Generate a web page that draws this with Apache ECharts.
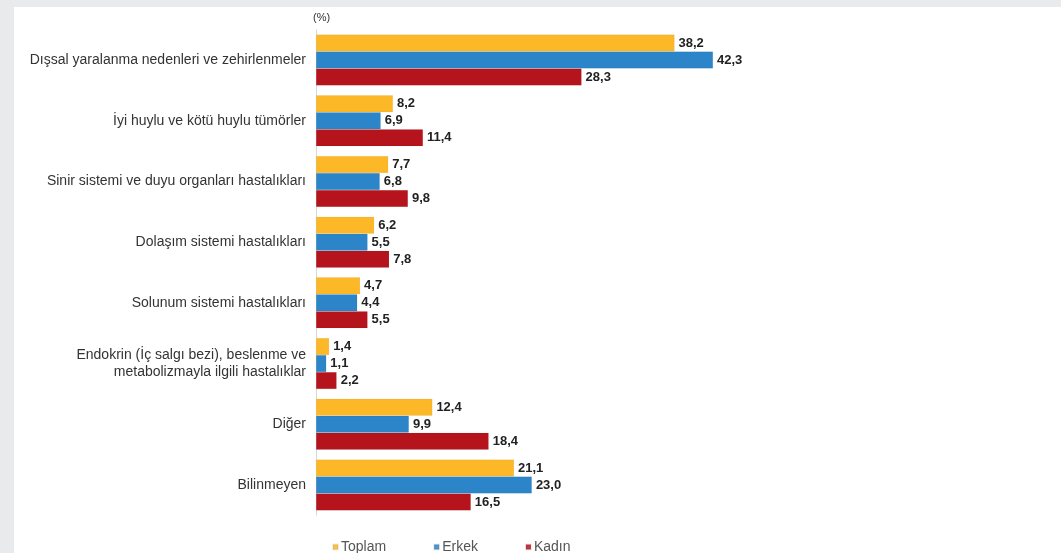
<!DOCTYPE html>
<html>
<head>
<meta charset="utf-8">
<script src="https://cdn.jsdelivr.net/npm/echarts@6/dist/echarts.min.js"></script>
<style>
  html, body { margin: 0; padding: 0; background: #e9eaec; }
  #chart { width: 1061px; height: 553px; }
</style>
</head>
<body>
<div id="chart"></div>
<script>
// Causes of death categories (top to bottom)
const categories = [
  'Dışsal yaralanma nedenleri ve zehirlenmeler',
  'İyi huylu ve kötü huylu tümörler',
  'Sinir sistemi ve duyu organları hastalıkları',
  'Dolaşım sistemi hastalıkları',
  'Solunum sistemi hastalıkları',
  'Endokrin (İç salgı bezi), beslenme ve\nmetabolizmayla ilgili hastalıklar',
  'Diğer',
  'Bilinmeyen'
];
const seriesNames = ['Toplam', 'Erkek', 'Kadın'];
const toplam = [38.2, 8.2, 7.7, 6.2, 4.7, 1.4, 12.4, 21.1];
const erkek  = [42.3, 6.9, 6.8, 5.5, 4.4, 1.1, 9.9, 23.0];
const kadin  = [28.3, 11.4, 9.8, 7.8, 5.5, 2.2, 18.4, 16.5];

const colors = ['#fcb827', '#2b85c8', '#b5141c'];
const valuesBySeries = [toplam, erkek, kadin];
const FONT = 'Liberation Sans, Arial, sans-serif';

const chart = echarts.init(document.getElementById('chart'), null, { renderer: 'canvas' });

const fmt = v => v.toFixed(1).replace('.', ',');

chart.setOption({
  animation: false,
  backgroundColor: '#e9eaec',
  graphic: [
    { type: 'rect', z: -10, shape: { x: 14, y: 7, width: 1047, height: 546 }, style: { fill: '#ffffff' } },
    { type: 'text', left: 313, top: 12, style: { text: '(%)', fontSize: 11, fill: '#333', fontFamily: FONT } }
  ],
  legend: {
    data: seriesNames.map((n, i) => ({ name: n, itemStyle: { color: colors[i], opacity: 0.85 } })),
    left: 327,
    top: 535,
    icon: 'rect',
    itemWidth: 5,
    itemHeight: 5,
    itemGap: 47,
    textStyle: { fontSize: 14, color: '#555', fontFamily: FONT, padding: [0, 0, 0, -2] }
  },
  grid: { left: 316, top: 29.7, width: 469.3, height: 485.6, containLabel: false },
  xAxis: {
    type: 'value', min: 0, max: 50,
    show: false
  },
  yAxis: {
    type: 'category',
    data: categories,
    inverse: true,
    axisLine: { show: true, lineStyle: { color: '#d8d8d8', width: 1 } },
    axisTick: { show: false },
    axisLabel: {
      margin: 10,
      fontSize: 14,
      color: '#333',
      lineHeight: 17,
      align: 'right',
      fontFamily: FONT
    }
  },
  series: valuesBySeries.map((vals, i) => ({
    name: seriesNames[i],
    type: 'bar',
    data: vals,
    barWidth: 17,
    barGap: '0%',
    itemStyle: { color: colors[i], borderColor: 'rgba(0,0,0,0.08)', borderWidth: 0.5 },
    label: {
      show: true,
      position: 'right',
      distance: 4,
      formatter: p => fmt(p.value),
      fontSize: 13,
      fontWeight: 'bold',
      color: '#222',
      fontFamily: FONT
    }
  }))
});
</script>
</body>
</html>
